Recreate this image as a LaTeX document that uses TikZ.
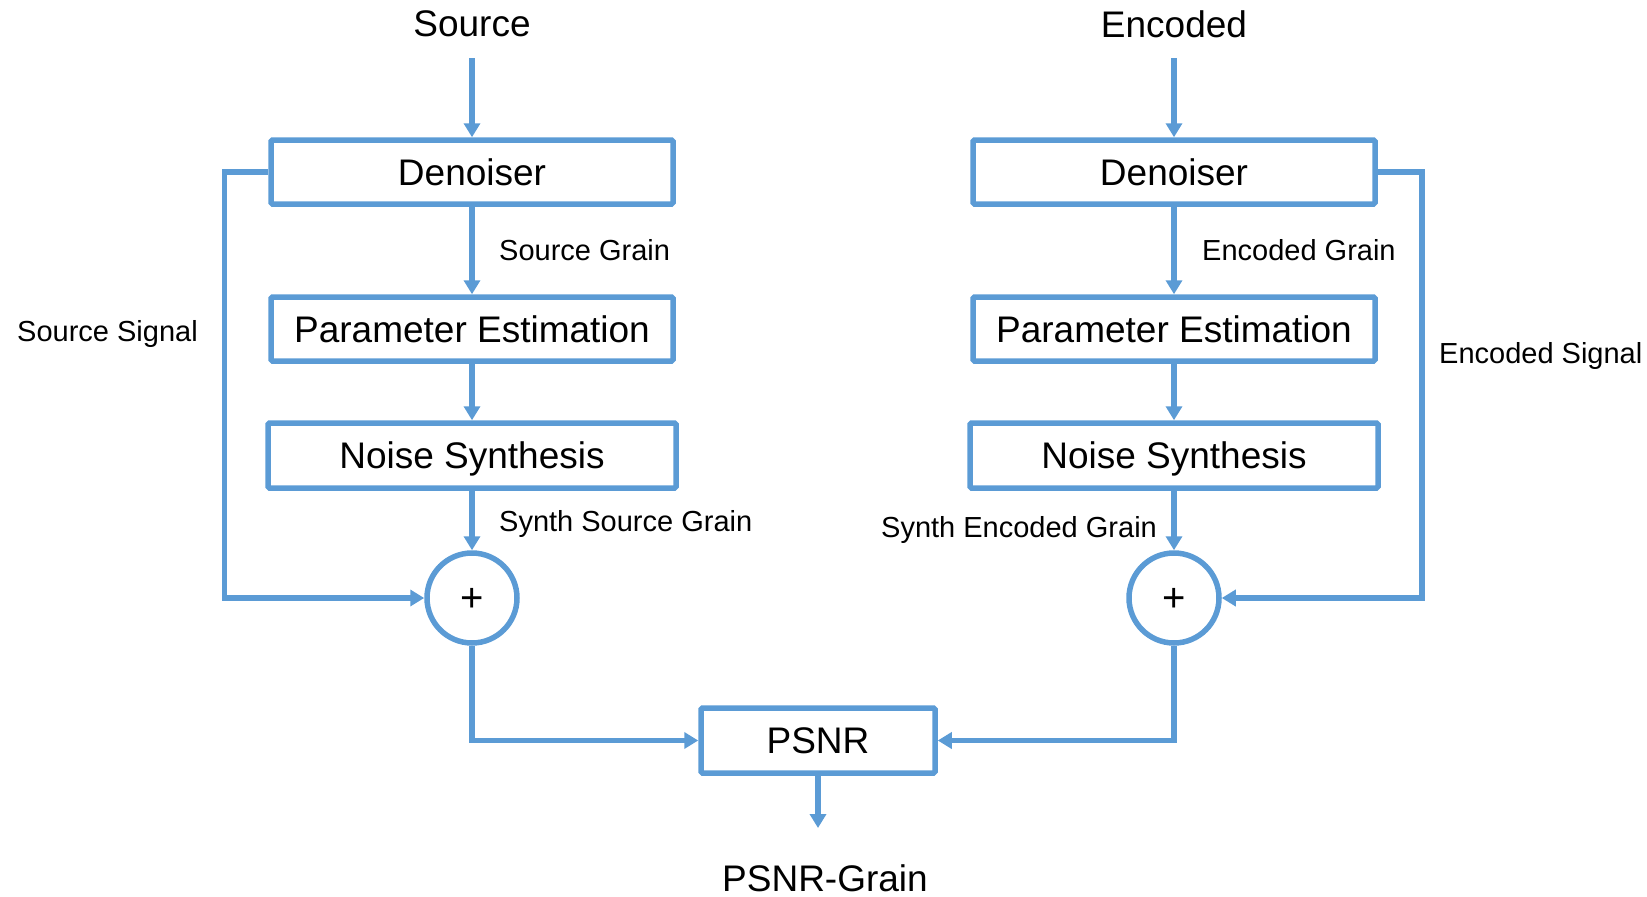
\documentclass[tikz,border=0pt]{standalone}
\usepackage{fontspec}
\setmainfont{Liberation Sans}
\usetikzlibrary{arrows.meta}
\definecolor{lineblue}{HTML}{5B9BD5}
\begin{document}
\begin{tikzpicture}[x=1pt,y=-1pt,
  box/.style={draw=lineblue, line width=5.5pt, rectangle, rounded corners=1.5pt, inner sep=0pt,
    minimum height=64pt, font=\fontsize{37}{44}\selectfont, text height=26.5pt, text depth=0pt},
  sumnode/.style={draw=lineblue, line width=5.5pt, circle, minimum size=90pt, inner sep=0pt,
    font=\fontsize{40}{44}\selectfont, text height=27.5pt, text depth=0pt},
  arr/.style={draw=lineblue, line width=5.5pt, -{Triangle[length=14pt,width=16pt]}},
  big/.style={font=\fontsize{37}{44}\selectfont, inner sep=0pt, anchor=base},
  small/.style={font=\fontsize{29}{34}\selectfont, inner sep=0pt, anchor=base west}]
\useasboundingbox (0,0) rectangle (1647,897);

% titles
\node[big] (srcT) at (472,36) {Source};
\node[big] (encT) at (1174,37) {Encoded};
\node[big] (outT) at (825,891) {PSNR-Grain};

% left chain
\node[box, minimum width=402pt] (dL) at (472,172) {Denoiser};
\node[box, minimum width=402pt] (pL) at (472,329) {Parameter Estimation};
\node[box, minimum width=408pt, minimum height=65pt] (nL) at (472,455.5) {Noise Synthesis};
\node[sumnode] (cL) at (472,598) {+};

% right chain
\node[box, minimum width=402pt] (dR) at (1174,172) {Denoiser};
\node[box, minimum width=402pt] (pR) at (1174,329) {Parameter Estimation};
\node[box, minimum width=408pt, minimum height=65pt] (nR) at (1174,455.5) {Noise Synthesis};
\node[sumnode] (cR) at (1174,598) {+};

% PSNR
\node[box, minimum width=234pt, minimum height=65pt] (psnr) at (818,740.5) {PSNR};

% free ends
\coordinate (srcA) at (472,58);
\coordinate (encA) at (1174,58);
\coordinate (outA) at (818,828);

% connectors left
\draw[arr] (srcA) -- (dL.north);
\draw[arr] (dL.south) -- (pL.north);
\draw[arr] (pL.south) -- (nL.north);
\draw[arr] (nL.south) -- (cL.north);
\draw[arr] (dL.west) -- ++(-44,0) |- (cL.west);
\draw[arr] (cL.south) |- (psnr.west);

% connectors right
\draw[arr] (encA) -- (dR.north);
\draw[arr] (dR.south) -- (pR.north);
\draw[arr] (pR.south) -- (nR.north);
\draw[arr] (nR.south) -- (cR.north);
\draw[arr] (dR.east) -- ++(44,0) |- (cR.east);
\draw[arr] (cR.south) |- (psnr.east);

\draw[arr] (psnr.south) -- (outA);

% labels
\node[small] (lsg) at (499,260) {Source Grain};
\node[small] (lss) at (17,341) {Source Signal};
\node[small] (lssg) at (499,531) {Synth Source Grain};
\node[small] (leg) at (1202,260) {Encoded Grain};
\node[small] (les) at (1439,363) {Encoded Signal};
\node[small] (lseg) at (881,537) {Synth Encoded Grain};
\end{tikzpicture}
\end{document}
